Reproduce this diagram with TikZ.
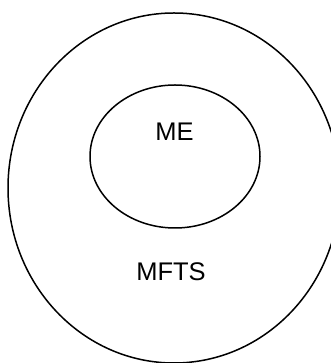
\documentclass[tikz,border=0pt]{standalone}
\usepackage{fontspec}
\setmainfont{Liberation Sans}
\usepackage{tikz}

\begin{document}
\begin{tikzpicture}[x=1pt,y=1pt,line width=1.5pt]
    \useasboundingbox (0,0) rectangle (330,363);
    \draw (174,175) ellipse (166 and 175);
    \draw (175,206.5) ellipse (85 and 71.5);
	\node[font=\fontsize{25.5}{30}\selectfont] (me) at (174.5,231) {ME};
	\node[font=\fontsize{25.5}{30}\selectfont] (mfts) at (171,91.5) {MFTS};
\end{tikzpicture}
\end{document}
